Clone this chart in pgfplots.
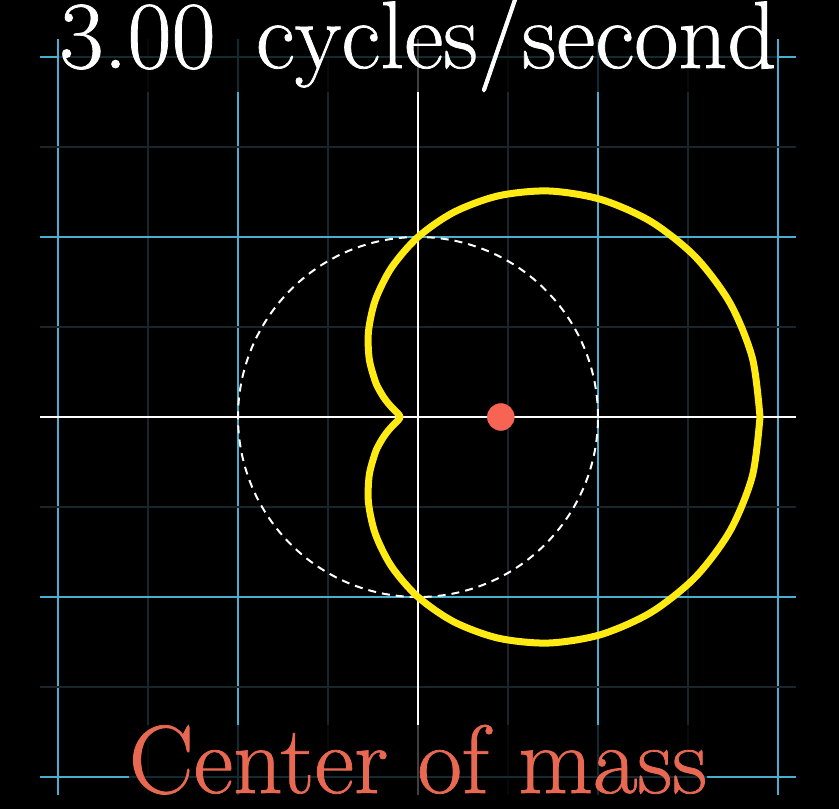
\documentclass[border=0pt]{standalone}
\usepackage{fontspec}
\newfontface\bigfont{lmroman17-regular.otf}[FakeBold=0.8]
\usepackage{pgfplots}
\pgfplotsset{compat=1.18}
\definecolor{gridblue}{RGB}{74,175,207}
\definecolor{minorgrid}{RGB}{24,38,44}
\definecolor{cyellow}{RGB}{255,234,20}
\definecolor{cred}{RGB}{248,100,84}
\definecolor{tred}{RGB}{232,104,82}
\begin{document}
\begin{tikzpicture}[x=1pt,y=1pt]
\fill[black] (0,0) rectangle (839,-809);
\useasboundingbox (0,0) rectangle (839,-809);
\begin{axis}[
  x=180pt, y=180pt,
  anchor=south west, at={(40pt,-795pt)},
  xmin=-2.1, xmax=2.1, ymin=-2.1, ymax=2.1,
  axis line style={draw=none},
  major tick length=0pt, minor tick length=0pt,
  xtick={-2,-1,0,1,2}, ytick={-2,-1,0,1,2},
  minor xtick={-1.5,-0.5,0.5,1.5}, minor ytick={-1.5,-0.5,0.5,1.5},
  xticklabels={}, yticklabels={},
  grid=both,
  major grid style={gridblue, line width=2.4pt},
  minor grid style={minorgrid, line width=1.8pt},
  clip=false,
]
% white coordinate axes
\addplot[white, line width=2.4pt] coordinates {(-2.1,0) (2.1,0)};
\addplot[white, line width=2.4pt] coordinates {(0,-2.1) (0,2.1)};
% dashed unit circle
\draw[white, line width=2pt, dash pattern=on 8pt off 6pt] (axis cs:0,0) circle[radius=180pt];
% wound signal (limacon)
\addplot[cyellow, line width=7pt, smooth, line join=round, line cap=round] coordinates {
(1.9,0) (1.8576,0.3275) (1.7344,0.6312) (1.5410,0.8897) (1.2941,1.0859)
(1.0147,1.2091) (0.7250,1.2557) (0.4473,1.2289) (0.2007,1.1386) (0,1)
(-0.1465,0.8310) (-0.2367,0.6505) (-0.2750,0.4763) (-0.2709,0.3229)
(-0.2379,0.1997) (-0.2152,0.1507) (-0.1910,0.1103) (-0.1670,0.0779)
(-0.1450,0.0528) (-0.1262,0.0338) (-0.1120,0.0197) (-0.1030,0.0090) (-0.1,0)
(-0.1030,-0.0090) (-0.1120,-0.0197) (-0.1262,-0.0338) (-0.1450,-0.0528)
(-0.1670,-0.0779) (-0.1910,-0.1103) (-0.2152,-0.1507) (-0.2379,-0.1997)
(-0.2709,-0.3229) (-0.2750,-0.4763) (-0.2367,-0.6505) (-0.1465,-0.8310)
(0,-1) (0.2007,-1.1386) (0.4473,-1.2289) (0.7250,-1.2557) (1.0147,-1.2091)
(1.2941,-1.0859) (1.5410,-0.8897) (1.7344,-0.6312) (1.8576,-0.3275) (1.9,0)
};
% center of mass
\addplot[only marks, mark=*, mark size=13.5pt, color=cred] coordinates {(0.46,0)};
\end{axis}
\node[fill=black, fill opacity=0.75, text opacity=1, inner sep=0pt, text=white, anchor=base,
  font=\bigfont\fontsize{96}{100}\selectfont] at (418,-68) {3.00\hspace{0.42em}cycles/second};
\node[fill=black, fill opacity=0.75, text opacity=1, inner sep=0pt, text=tred, anchor=base,
  font=\bigfont\fontsize{97}{100}\selectfont] at (418,-793) {Center of mass};
\end{tikzpicture}
\end{document}
